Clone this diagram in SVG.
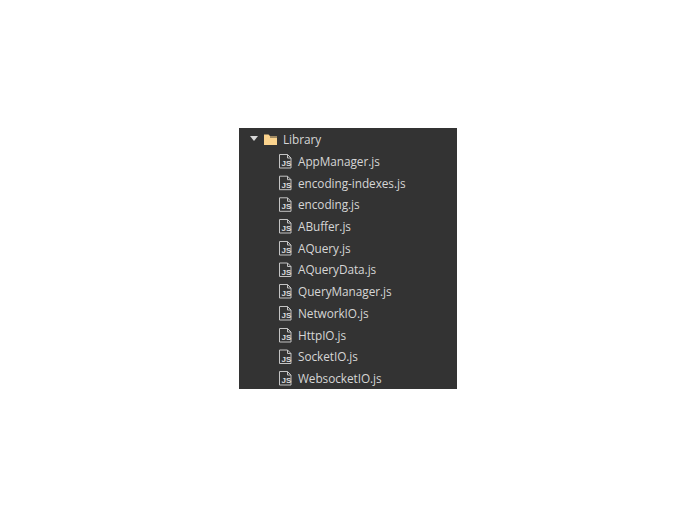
<svg xmlns="http://www.w3.org/2000/svg" width="696" height="516" viewBox="0 0 696 516">
<style>
text{font-family:"Open Sans","Noto Sans",sans-serif;font-size:11.8px;letter-spacing:-0.05px;fill:#d6d6d6}
.f{fill:none;stroke:#c4c4c4;stroke-width:1}
text.j{font-family:"Liberation Sans",sans-serif;font-size:8px;letter-spacing:0;font-weight:700;fill:#dcdcdc}
</style>
<defs>
<g id="js">
<path class="f" d="M279.500 154.500h8l3.500 3.500v10h-11.500z"/>
<path class="f" d="M287.500 154.500v3.500h3.500"/>
<text class="j" x="281.500" y="166">JS</text>
</g>
</defs>
<rect width="696" height="516" fill="#fff"/>
<rect x="239" y="128" width="218" height="261" fill="#333333"/>
<g id="library">
<path d="M250 136h8l-4 5z" fill="#d8d8d8"/>
<path d="M264 134.500h4.500l1.500 1.500h7v1h-7v1h7v7h-13z" fill="#fbd38d"/>
<rect x="270" y="136" width="7" height="2" fill="#a08a63"/>
<text x="283" y="144">Library</text>
</g>
<g id="file-1"><use href="#js"/><text x="298" y="166">AppManager.js</text></g>
<g id="file-2"><use href="#js" y="21.700"/><text x="298" y="187.500">encoding-indexes.js</text></g>
<g id="file-3"><use href="#js" y="43.300"/><text x="298" y="209">encoding.js</text></g>
<g id="file-4"><use href="#js" y="65"/><text x="298" y="231">ABuffer.js</text></g>
<g id="file-5"><use href="#js" y="87"/><text x="298" y="253">AQuery.js</text></g>
<g id="file-6"><use href="#js" y="108.500"/><text x="298" y="274">AQueryData.js</text></g>
<g id="file-7"><use href="#js" y="130"/><text x="298" y="296">QueryManager.js</text></g>
<g id="file-8"><use href="#js" y="152"/><text x="298" y="318">NetworkIO.js</text></g>
<g id="file-9"><use href="#js" y="174"/><text x="298" y="340">HttpIO.js</text></g>
<g id="file-10"><use href="#js" y="195.500"/><text x="298" y="361">SocketIO.js</text></g>
<g id="file-11"><use href="#js" y="217"/><text x="298" y="383">WebsocketIO.js</text></g>
</svg>
